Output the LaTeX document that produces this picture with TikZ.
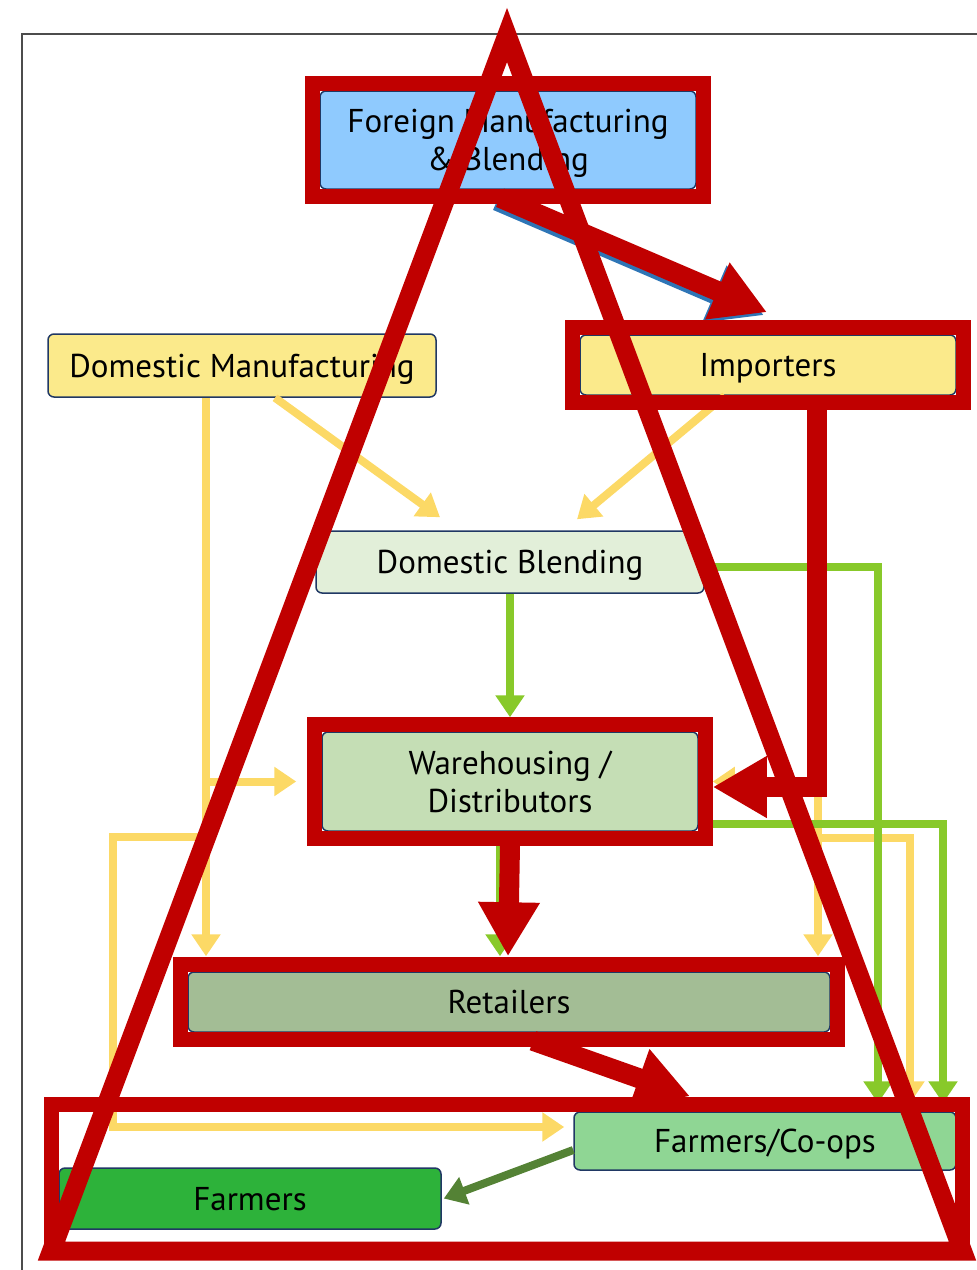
\documentclass[tikz,border=0pt]{standalone}
\usepackage{fontspec}
\setmainfont{PT Sans}
\usetikzlibrary{positioning,calc,arrows.meta}

\definecolor{redmark}{HTML}{C00000}
\definecolor{flowyellow}{HTML}{FCD966}
\definecolor{flowgreen}{HTML}{88C92A}
\definecolor{darkflow}{HTML}{548235}
\definecolor{flowblue}{HTML}{2E75B6}
\definecolor{boxedge}{HTML}{203864}
\definecolor{foreignfill}{HTML}{8FCAFE}
\definecolor{yellowfill}{HTML}{FBEA8B}
\definecolor{blendfill}{HTML}{E2EFD9}
\definecolor{warefill}{HTML}{C5DEB5}
\definecolor{retailfill}{HTML}{A3BD95}
\definecolor{coopfill}{HTML}{8FD694}
\definecolor{farmfill}{HTML}{2DB23A}

\begin{document}
\begin{tikzpicture}[x=1pt,y=-1pt,
    box/.style={draw=boxedge,line width=1.5pt,rounded corners=6pt,align=center,inner sep=0pt,
        text depth=0pt,font=\fontsize{33}{38}\selectfont},
    yflow/.style={flowyellow,line width=8pt,-{Triangle[length=22pt,width=28pt]}},
    gflow/.style={flowgreen,line width=8pt,-{Triangle[length=22pt,width=28pt]}},
    dflow/.style={darkflow,line width=8pt,-{Triangle[length=22pt,width=28pt]}},
    redbox/.style={redmark,line width=15pt},
    redflow/.style={redmark,line width=20pt,-{Triangle[length=54pt,width=58pt]}}]
        \useasboundingbox (0,0) rectangle (977,1270);
        \draw[gray!60!black,line width=2pt] (22,1270) -- (22,34) -- (977,34);

        % boxes
        \node[box,fill=foreignfill,minimum width=376pt,minimum height=98pt] (foreign) at (508,140) {Foreign Manufacturing\\\& Blending};
        \node[box,fill=yellowfill,minimum width=388pt,minimum height=63pt] (dommanu) at (242,365.5) {Domestic Manufacturing};
        \node[box,fill=yellowfill,minimum width=376pt,minimum height=60pt] (importers) at (768,365) {Importers};
        \node[box,fill=blendfill,minimum width=388pt,minimum height=62pt] (domblend) at (510,562) {Domestic Blending};
        \node[box,fill=warefill,minimum width=376pt,minimum height=99pt] (warehouse) at (510,781.5) {Warehousing /\\Distributors};
        \node[box,fill=retailfill,minimum width=642pt,minimum height=60pt] (retailers) at (509,1002) {Retailers};
        \node[box,fill=coopfill,minimum width=382pt,minimum height=58pt] (coops) at (765,1141) {Farmers/Co-ops};
        \node[box,fill=farmfill,minimum width=382pt,minimum height=61pt] (farmers) at (250,1198.5) {Farmers};

        % split points on the yellow trunks
        \coordinate (lsplit) at ([xshift=-36pt]dommanu.south |- warehouse.west);
        \coordinate (lsplit2) at (206,837);
        \coordinate (rsplit) at ([xshift=50pt]importers.south |- warehouse.east);
        \coordinate (rsplit2) at (818,838);

        % yellow flows
        \draw[yflow] ([xshift=33pt]dommanu.south) -- ([xshift=-70pt,yshift=13pt]domblend.north);
        \draw[yflow] ([xshift=-43pt]importers.south) -- ([xshift=67pt,yshift=11pt]domblend.north);
        \draw[yflow] ([xshift=-36pt]dommanu.south) -- ([xshift=-303pt,yshift=15pt]retailers.north);
        \draw[yflow] (lsplit) -- ([xshift=-25pt]warehouse.west);
        \draw[yflow] (lsplit2) -- ++(-93,0) |- ([xshift=-9pt,yshift=14pt]coops.west);
        \draw[yflow] ([xshift=50pt]importers.south) -- ([xshift=309pt,yshift=15pt]retailers.north);
        \draw[yflow] (rsplit) -- ([xshift=14pt]warehouse.east);
        \draw[yflow] (rsplit2) -| ([xshift=145pt,yshift=8pt]coops.north);

        % green flows
        \draw[gflow] (domblend.south) -- ([yshift=14pt]warehouse.north);
        \draw[gflow] ([yshift=-5pt]domblend.east) -| ([xshift=113pt,yshift=8pt]coops.north);
        \draw[gflow] ([yshift=-42.5pt]warehouse.east) -| ([xshift=178pt,yshift=8pt]coops.north);
        \draw[gflow] ([xshift=-10pt]warehouse.south) -- ([xshift=-9pt,yshift=15pt]retailers.north);
        \draw[dflow] ([yshift=-9pt]coops.west) -- ([xshift=2pt]farmers.east);

        % original blue arrow
        \draw[flowblue,line width=20pt,-{Triangle[length=54pt,width=58pt]}] ([xshift=-11pt,yshift=-11pt]foreign.south) -- ([xshift=-4pt,yshift=19pt]importers.north);

        % red marks
        \foreach \n in {foreign,importers,warehouse,retailers}
            \draw[redbox] ([shift={(-7pt,7pt)}]\n.north west) rectangle ([shift={(7pt,-7pt)}]\n.south east);
        \draw[redbox] (51.5,1104.5) rectangle (962.5,1252.5);
        \draw[redflow] ([xshift=-8pt,yshift=-8pt]foreign.south) -- ([xshift=-1pt,yshift=22pt]importers.north);
        \draw[redflow] ([xshift=49pt,yshift=-8pt]importers.south) |- ([xshift=14pt,yshift=-5.5pt]warehouse.east);
        \draw[redflow] ([yshift=-14pt]warehouse.south) -- ([xshift=-1pt,yshift=15pt]retailers.north);
        \draw[redflow] ([xshift=24pt,yshift=-8pt]retailers.south) -- ([xshift=-75pt,yshift=15pt]coops.north);

        \coordinate (apex) at (507,35);
        \coordinate (bl) at (51.5,1251);
        \coordinate (br) at (962.5,1251);
        \draw[redmark,line width=19pt] (apex) -- (bl) -- (br) -- cycle;
    \end{tikzpicture}
\end{document}
